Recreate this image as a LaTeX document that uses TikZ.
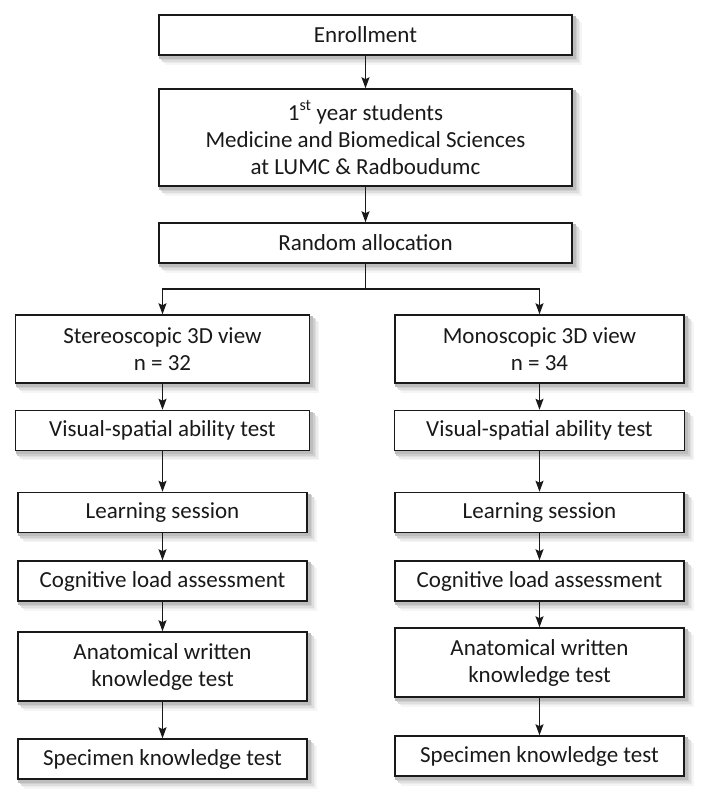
\documentclass[tikz,border=0pt]{standalone}
\usepackage{fontspec}
\setmainfont{Carlito}
\usetikzlibrary{arrows.meta,backgrounds}

\tikzset{
  box/.style={draw=black!90, line width=1.5pt, fill=white, align=center, inner sep=0pt,
    minimum height=40pt},
  wide/.style={box, minimum width=413pt},
  side/.style={box, minimum width=289pt},
  arr/.style={-{Stealth[length=11pt,width=8pt,inset=2pt]}, line width=1.3pt, draw=black!90},
}

\begin{document}
\begin{tikzpicture}[x=1pt,y=-1pt,font=\fontsize{23}{27}\selectfont,text=black!90]
\useasboundingbox (0,0) rectangle (709,804);

% top part
\node[wide] (enroll) at (365.5,35) {Enrollment};
\node[wide, minimum height=97pt] (students) at (365.5,137.5)
  {1\textsuperscript{st} year students\\Medicine and Biomedical Sciences\\at LUMC \& Radboudumc};
\node[wide] (random) at (365.5,243) {Random allocation};
\coordinate (split) at (365.5,289);

% left arm
\node[side, minimum width=294pt, minimum height=68pt] (stereo) at (162.5,349) {Stereoscopic 3D view\\n = 32};
\node[side, minimum width=294pt] (visL) at (162.5,430.5) {Visual-spatial ability test};
\node[side] (learnL) at (162.5,512.5) {Learning session};
\node[side] (cogL) at (162.5,581) {Cognitive load assessment};
\node[side, minimum height=69pt] (anatL) at (162.5,666.5) {Anatomical written\\knowledge test};
\node[side] (specL) at (162.5,759) {Specimen knowledge test};

% right arm
\node[side, minimum height=68pt] (mono) at (539.5,349) {Monoscopic 3D view\\n = 34};
\node[side, minimum width=290pt] (visR) at (539.5,430.5) {Visual-spatial ability test};
\node[side] (learnR) at (539.5,512.5) {Learning session};
\node[side] (cogR) at (539.5,581) {Cognitive load assessment};
\node[side, minimum height=69pt] (anatR) at (539.5,662.5) {Anatomical written\\knowledge test};
\node[side] (specR) at (539.5,756) {Specimen knowledge test};

% soft shadows behind the boxes
\begin{pgfonlayer}{background}
\foreach \n in {enroll,students,random,stereo,visL,learnL,cogL,anatL,specL,mono,visR,learnR,cogR,anatR,specR}
  \foreach \d/\g in {9/4,7.5/8,6/13,4.5/19,3/26}
    \fill[black!\g] ([shift={(\d-2,\d-1)}]\n.north west) rectangle ([shift={(\d,\d)}]\n.south east);
\end{pgfonlayer}

% connectors
\draw[arr] (enroll) -- (students);
\draw[arr] (students) -- (random);
\draw[line width=1.3pt, draw=black!90] (random) -- (split);
\draw[arr] (split) -| (stereo);
\draw[arr] (split) -| (mono);

\draw[arr] (stereo) -- (visL);
\draw[arr] (visL) -- (learnL);
\draw[arr] (learnL) -- (cogL);
\draw[arr] (cogL) -- (anatL);
\draw[arr] (anatL) -- (specL);

\draw[arr] (mono) -- (visR);
\draw[arr] (visR) -- (learnR);
\draw[arr] (learnR) -- (cogR);
\draw[arr] (cogR) -- (anatR);
\draw[arr] (anatR) -- (specR);
\end{tikzpicture}
\end{document}
